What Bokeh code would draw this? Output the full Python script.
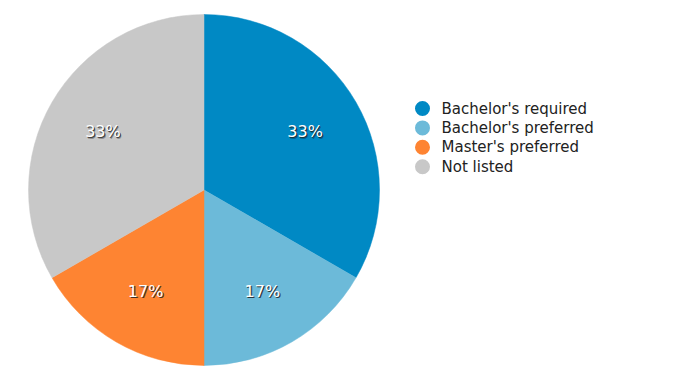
import math
from bokeh.plotting import figure
from bokeh.models import ColumnDataSource
from bokeh.core.properties import value
from bokeh.embed import file_html
from bokeh.resources import INLINE

categories = ["Bachelor's required", "Bachelor's preferred", "Master's preferred", "Not listed"]
counts = [2, 1, 1, 2]
colors = ["#0089c4", "#6cbad9", "#fe8432", "#c8c8c8"]

W, H = 659, 372
cx, cy, R = 203.5, H - 189.5, 175.5

total = sum(counts)
starts, ends, lx, ly, labels = [], [], [], [], []
acc = 0.0
for c in counts:
    a0 = math.pi / 2 - 2 * math.pi * acc / total
    a1 = math.pi / 2 - 2 * math.pi * (acc + c) / total
    starts.append(a0)
    ends.append(a1)
    mid = (a0 + a1) / 2
    lx.append(cx + 0.665 * R * math.cos(mid))
    ly.append(cy + 0.665 * R * math.sin(mid))
    labels.append(f"{round(100 * c / total)}%")
    acc += c

src = ColumnDataSource(dict(start=starts, end=ends, color=colors, lx=lx, ly=ly,
                            lab=labels,
                            sx=[x + 1 for x in lx], sy=[y - 1 for y in ly],
                            sx2=[x + 1.6 for x in lx], sy2=[y - 1.6 for y in ly]))

p = figure(width=W, height=H, x_range=(0, W), y_range=(0, H),
           output_backend="svg", toolbar_location=None, min_border=0)
p.axis.visible = False
p.grid.visible = False
p.outline_line_color = None

p.wedge(x=cx, y=cy, radius=R, start_angle="end", end_angle="start",
        fill_color="color", line_color="color", line_width=0.5, source=src)

p.text(x="sx2", y="sy2", text="lab", source=src, text_color="#000000", text_alpha=0.3,
       text_font=value("DejaVu Sans"), text_font_size="16px",
       text_align="center", text_baseline="middle")
p.text(x="sx", y="sy", text="lab", source=src, text_color="#222222", text_alpha=0.8,
       text_font=value("DejaVu Sans"), text_font_size="16px",
       text_align="center", text_baseline="middle")
p.text(x="lx", y="ly", text="lab", source=src, text_color="white",
       text_font=value("DejaVu Sans"), text_font_size="16px",
       text_align="center", text_baseline="middle")

leg_y = [H - (108 + 19.4 * i) for i in range(len(categories))]
leg = ColumnDataSource(dict(x=[422] * len(categories), tx=[441] * len(categories),
                            y=leg_y, color=colors, name=categories))
p.scatter(x="x", y="y", size=15, marker="circle", fill_color="color",
          line_color=None, source=leg)
p.text(x="tx", y="y", text="name", source=leg, text_color="#222222",
       text_font=value("DejaVu Sans"), text_font_size="15px",
       text_baseline="middle", text_align="left")

open("out.html", "w").write(file_html(p, INLINE))
